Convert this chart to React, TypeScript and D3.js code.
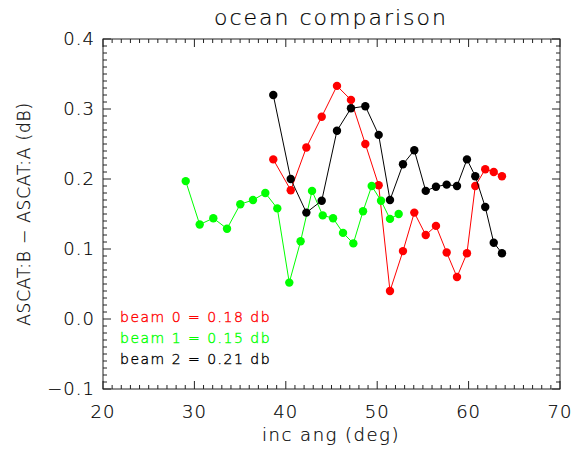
import React from 'react';
import * as d3 from 'd3';

// incidence angles for the beam 1 (green) series
const angGreen = [29.05, 30.58, 32.07, 33.57, 35.02, 36.41, 37.76, 39.07, 40.38, 41.62,
  42.87, 44.04, 45.17, 46.26, 47.39, 48.45, 49.4, 50.42, 51.4, 52.35];
const beam1 = [0.197, 0.135, 0.144, 0.129, 0.164, 0.17, 0.18, 0.158, 0.052, 0.111,
  0.183, 0.148, 0.144, 0.123, 0.108, 0.154, 0.19, 0.169, 0.143, 0.15];

// incidence angles shared by beam 0 and beam 2
const angRB = [38.63, 40.54, 42.25, 43.93, 45.6, 47.13, 48.7, 50.16, 51.4, 52.82,
  54.06, 55.31, 56.43, 57.6, 58.73, 59.82, 60.73, 61.82, 62.75, 63.65];
const beam0 = [0.228, 0.184, 0.245, 0.289, 0.333, 0.313, 0.25, 0.191, 0.04, 0.097,
  0.152, 0.12, 0.133, 0.095, 0.06, 0.094, 0.19, 0.214, 0.21, 0.204];
const beam2 = [0.32, 0.2, 0.152, 0.169, 0.269, 0.301, 0.304, 0.263, 0.17, 0.221,
  0.241, 0.183, 0.189, 0.192, 0.19, 0.228, 0.204, 0.16, 0.109, 0.094];

const xTicks = [20, 30, 40, 50, 60, 70];
const yTicks = [-0.1, 0.0, 0.1, 0.2, 0.3, 0.4];
const legendLines = ['beam 0 = 0.18 db', 'beam 1 = 0.15 db', 'beam 2 = 0.21 db'];
const seriesColors = ['#ff0000', '#00ff00', '#000000'];

const W = 574, H = 450;
const left = 103, right = 560, top = 39, bottom = 389;
const font = '"DejaVu Sans ExtraLight", "DejaVu Sans", sans-serif';
const ink = '#000';

export default function App() {
  const x = d3.scaleLinear().domain([20, 70]).range([left, right]);
  const y = d3.scaleLinear().domain([-0.1, 0.4]).range([bottom, top]);

  const series = [
    { ang: angRB, val: beam0, color: seriesColors[0] },
    { ang: angGreen, val: beam1, color: seriesColors[1] },
    { ang: angRB, val: beam2, color: seriesColors[2] },
  ];

  const line = d3.line<[number, number]>().x(d => x(d[0])).y(d => y(d[1]));

  const xMinor = d3.range(20, 71, 1);
  const yMinor = d3.range(-10, 41, 1).map(v => v / 100);

  // shared look for the thin vector-style lettering
  const txt = { fontFamily: font, fontWeight: 200, fill: ink, stroke: ink, strokeWidth: 0.2 };

  return (
    <svg width={W} height={H} style={{ position: 'absolute', left: 0, top: 0, background: '#fff' }}>
      <text x={331} y={25} textAnchor="middle" {...txt} fontSize={22} letterSpacing={2}>ocean comparison</text>

      {/* frame */}
      <rect x={left} y={top} width={right - left} height={bottom - top} fill="none" stroke="#222" strokeWidth={1} />

      {/* ticks on all four sides, pointing inward */}
      {xMinor.map(v => {
        const major = v % 10 === 0;
        const len = major ? 8 : 4;
        return (
          <g key={'xt' + v} stroke="#222" strokeWidth={1}>
            <line x1={x(v)} x2={x(v)} y1={bottom} y2={bottom - len} />
            <line x1={x(v)} x2={x(v)} y1={top} y2={top + len} />
          </g>
        );
      })}
      {yMinor.map((v, i) => {
        const major = i % 10 === 0;
        const len = major ? 8 : 4;
        return (
          <g key={'yt' + i} stroke="#222" strokeWidth={1}>
            <line x1={left} x2={left + len} y1={y(v)} y2={y(v)} />
            <line x1={right} x2={right - len} y1={y(v)} y2={y(v)} />
          </g>
        );
      })}

      {xTicks.map(v => (
        <text key={'xl' + v} x={x(v)} y={bottom + 29} textAnchor="middle" {...txt} fontSize={18} letterSpacing={1}>{v}</text>
      ))}
      {yTicks.map(v => (
        <text key={'yl' + v} x={left - 8} y={y(v) + 6} textAnchor="end" {...txt} fontSize={18} letterSpacing={1}>
          {v < 0 ? '\u2212' + Math.abs(v).toFixed(1) : v.toFixed(1)}
        </text>
      ))}

      <text x={331} y={441} textAnchor="middle" {...txt} fontSize={18} letterSpacing={1.5}>inc ang (deg)</text>
      <text transform={`translate(30,${(top + bottom) / 2}) rotate(-90)`} textAnchor="middle" {...txt} fontSize={17} letterSpacing={0.8}>
        ASCAT:B − ASCAT:A (dB)
      </text>

      {series.map((s, k) => {
        const pts = s.ang.map((a, i) => [a, s.val[i]] as [number, number]);
        return (
          <g key={'s' + k}>
            <path d={line(pts) || ''} fill="none" stroke={s.color} strokeWidth={1} />
            {pts.map((p, i) => (
              <circle key={i} cx={x(p[0])} cy={y(p[1])} r={4.2} fill={s.color} />
            ))}
          </g>
        );
      })}

      {legendLines.map((t, i) => (
        <text key={'lg' + i} x={120} y={322 + i * 21} {...txt} fill={seriesColors[i]} stroke={seriesColors[i]} strokeWidth={0.35} fontSize={14} letterSpacing={1.5}>{t}</text>
      ))}
    </svg>
  );
}
